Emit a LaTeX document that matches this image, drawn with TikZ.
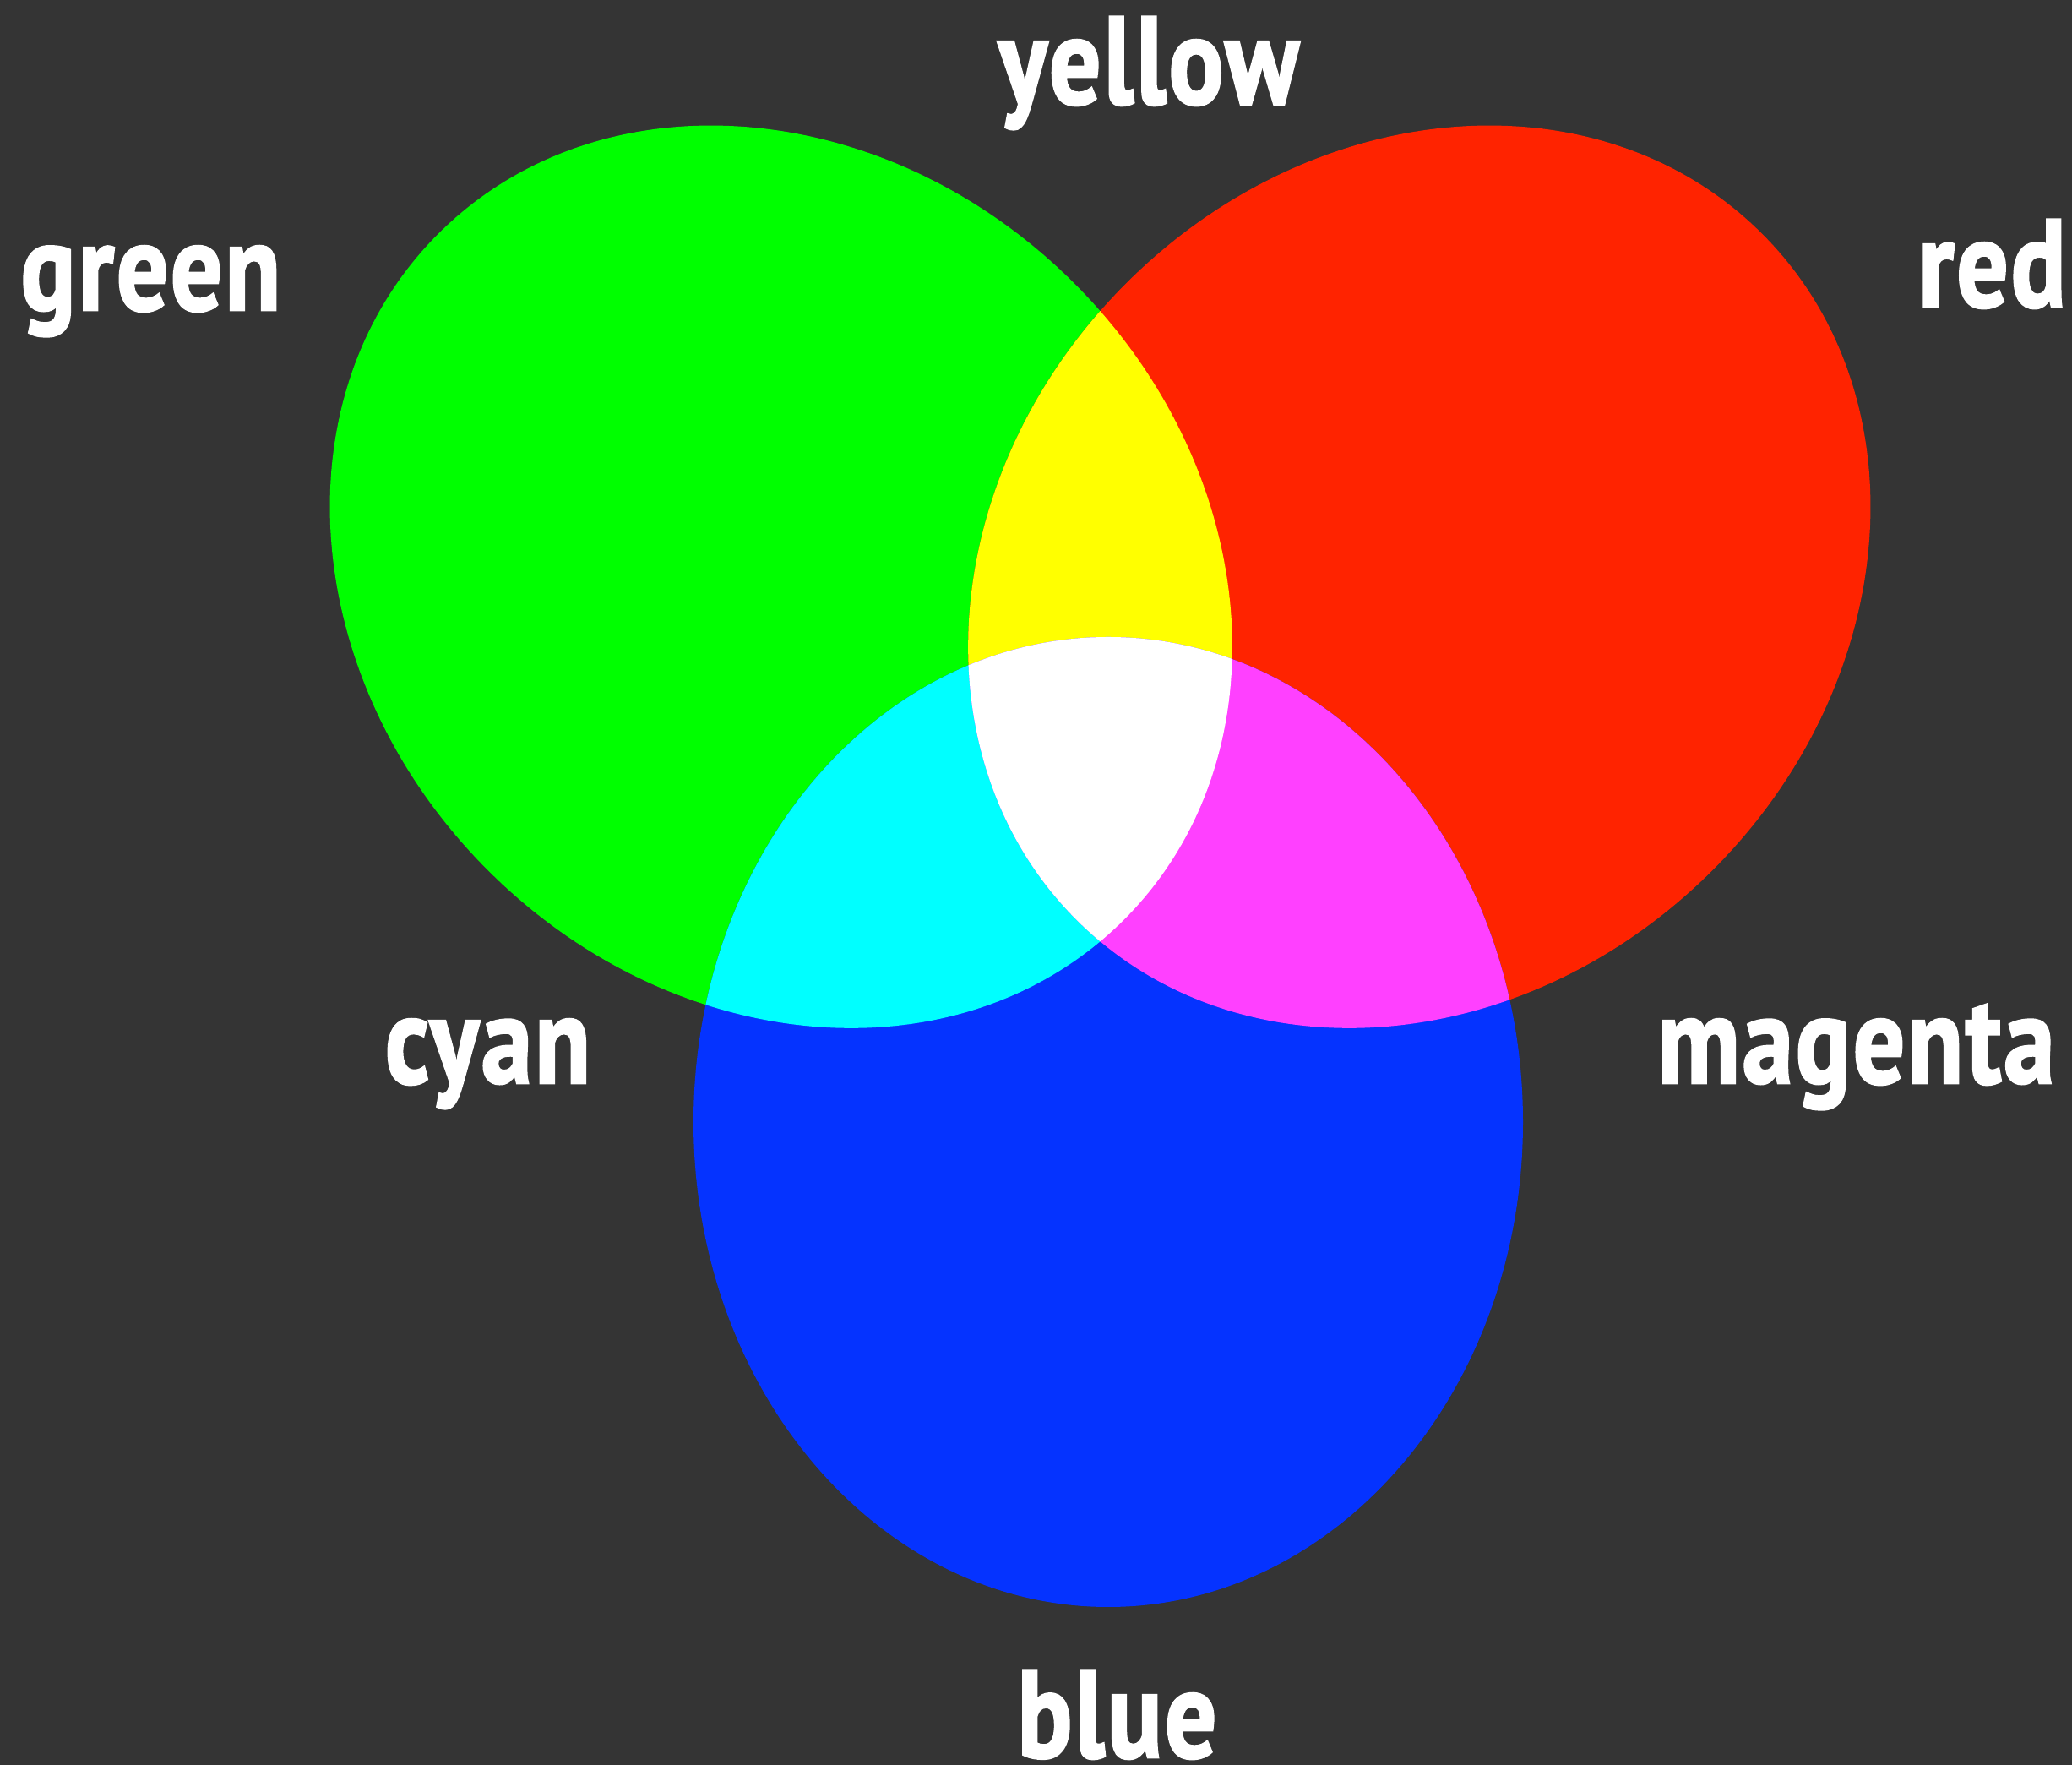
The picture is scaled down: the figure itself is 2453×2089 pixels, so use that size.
\documentclass[tikz,border=0pt]{standalone}
\usepackage{fontspec}
\newfontfamily\labfont{PT Sans}[FakeStretch=0.82, LetterSpace=2, BoldFeatures={FakeBold=1.8}]
\definecolor{bg}{HTML}{343434}
\definecolor{cgreen}{HTML}{00FF00}
\definecolor{cred}{HTML}{FF2300}
\definecolor{cblue}{HTML}{0533FF}
\definecolor{cyellow}{HTML}{FFFF00}
\definecolor{ccyan}{HTML}{00FFFF}
\definecolor{cmagenta}{HTML}{FF40FF}
\tikzset{
  gshape/.style={rotate around={45:(924.7,682.7)}},
  rshape/.style={rotate around={-45:(1680.3,682.7)}},
  lab/.style={text=white, font=\labfont\bfseries\fontsize{42pt}{42pt}\selectfont,
    inner sep=0pt, outer sep=0pt, anchor=base},
}
\begin{document}
\begin{tikzpicture}[x=0.01cm, y=-0.01cm]
  \fill[bg] (0,0) rectangle (2453,2089);
  \useasboundingbox (0,0) rectangle (2453,2089);
  % base shapes
  \fill[cgreen, gshape] (924.7,682.7) ellipse [x radius=491, y radius=574];
  \fill[cred, rshape] (1680.3,682.7) ellipse [x radius=491, y radius=574];
  \fill[cblue] (1312,1328) ellipse [x radius=491, y radius=574];
  % overlaps with green
  \begin{scope}
    \clip[gshape] (924.7,682.7) ellipse [x radius=491, y radius=574];
    \fill[cyellow, rshape] (1680.3,682.7) ellipse [x radius=491, y radius=574];
    \fill[ccyan] (1312,1328) ellipse [x radius=491, y radius=574];
  \end{scope}
  % overlaps with red
  \begin{scope}
    \clip[rshape] (1680.3,682.7) ellipse [x radius=491, y radius=574];
    \fill[cmagenta] (1312,1328) ellipse [x radius=491, y radius=574];
    \clip[gshape] (924.7,682.7) ellipse [x radius=491, y radius=574];
    \fill[white] (1312,1328) ellipse [x radius=491, y radius=574];
  \end{scope}
  % labels
  \node[lab] (lyellow) at (1360,123) {yellow};
  \node[lab] (lgreen) at (178.5,367) {green};
  \node[lab] (lred) at (2358.5,363) {red};
  \node[lab] (lcyan) at (577.5,1282) {cyan};
  \node[lab] (lmagenta) at (2197.5,1282) {magenta};
  \node[lab] (lblue) at (1322.5,2080) {blue};
\end{tikzpicture}
\end{document}
